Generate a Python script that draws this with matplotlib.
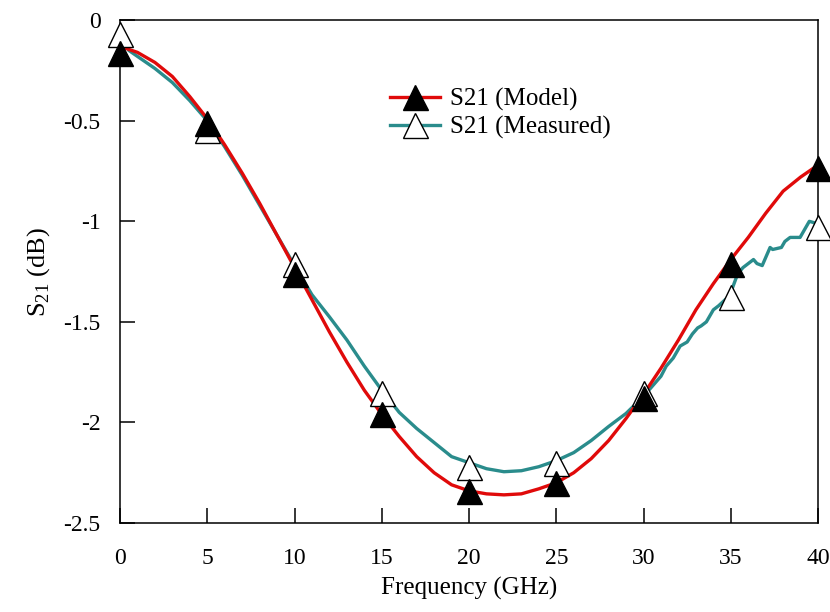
import matplotlib
matplotlib.use("Agg")
import matplotlib.pyplot as plt
from matplotlib.lines import Line2D

plt.rcParams['font.family'] = 'Liberation Serif'
plt.rcParams['mathtext.fontset'] = 'custom'
plt.rcParams['mathtext.rm'] = 'Liberation Serif'

# model curve (GHz, dB)
model_f = [0, 1, 2, 3, 4, 5, 6, 7, 8, 9, 10, 11, 12, 13, 14, 15, 16, 17, 18, 19, 20,
           21, 22, 23, 24, 25, 26, 27, 28, 29, 30, 31, 32, 33, 34, 35, 36, 37, 38, 39, 40]
model_db = [-0.13, -0.16, -0.21, -0.28, -0.38, -0.49, -0.62, -0.76, -0.91, -1.07, -1.23,
            -1.39, -1.55, -1.70, -1.84, -1.96, -2.07, -2.17, -2.25, -2.31, -2.34,
            -2.355, -2.36, -2.355, -2.33, -2.30, -2.25, -2.18, -2.09, -1.98, -1.86,
            -1.73, -1.59, -1.44, -1.31, -1.19, -1.08, -0.96, -0.85, -0.78, -0.72]

# measured curve (GHz, dB)
meas_f = [0, 0.5, 1, 2, 3, 4, 5, 6, 7, 8, 9, 10, 11, 12, 13, 14, 15, 16, 17, 18, 19, 20,
          21, 22, 23, 24, 25, 26, 27, 28, 29, 30, 30.5, 31.0, 31.3, 31.7, 32.1, 32.5, 32.8,
          33.1, 33.3, 33.6, 34.0, 34.3, 34.8, 35.1, 35.4, 35.7, 36.0, 36.3, 36.5, 36.8,
          37.05, 37.25, 37.4, 37.9, 38.1, 38.4, 38.97, 39.3, 39.5, 39.9]
meas_db = [-0.06, -0.15, -0.18, -0.24, -0.31, -0.40, -0.50, -0.63, -0.77, -0.92, -1.07,
           -1.22, -1.365, -1.475, -1.59, -1.72, -1.84, -1.95, -2.03, -2.10, -2.17, -2.20,
           -2.23, -2.245, -2.24, -2.22, -2.19, -2.15, -2.09, -2.02, -1.955, -1.87, -1.82,
           -1.77, -1.72, -1.68, -1.62, -1.60, -1.56, -1.53, -1.52, -1.50, -1.44, -1.42,
           -1.38, -1.33, -1.26, -1.23, -1.21, -1.19, -1.21, -1.22, -1.17, -1.13, -1.14,
           -1.13, -1.10, -1.08, -1.08, -1.03, -1.00, -1.01]

# marker points
mark_f = [0, 5, 10, 15, 20, 25, 30, 35, 40]
model_mark = [-0.165, -0.51, -1.26, -1.96, -2.34, -2.30, -1.88, -1.21, -0.735]
meas_mark = [-0.07, -0.545, -1.21, -1.855, -2.22, -2.20, -1.855, -1.375, -1.03]

yticks = [0, -0.5, -1, -1.5, -2, -2.5]
ytick_labels = ['0', '-0.5', '-1', '-1.5', '-2', '-2.5']

red = '#e00a0a'
teal = '#2a8c8c'

fig = plt.figure(figsize=(8.3, 6.12), dpi=100)
ax = fig.add_axes([0.1446, 0.1454, 0.841, 0.8216])

ax.plot(meas_f, meas_db, color=teal, lw=2.4, zorder=2)
ax.plot(model_f, model_db, color=red, lw=2.4, zorder=3)
ax.plot(mark_f, meas_mark, ls='none', marker='^', ms=18, mfc='white', mec='black',
        mew=1.0, zorder=4, clip_on=False)
ax.plot(mark_f, model_mark, ls='none', marker='^', ms=18, mfc='black', mec='black',
        mew=1.0, zorder=5, clip_on=False)

ax.set_xlim(0, 40)
ax.set_ylim(-2.5, 0)
ax.set_xticks(range(0, 41, 5))
ax.set_yticks(yticks)
ax.set_yticklabels(ytick_labels)
ax.tick_params(direction='in', length=11, width=1.1, labelsize=17)
ax.tick_params(axis='x', pad=18)
ax.tick_params(axis='y', pad=14)
for s in ax.spines.values():
    s.set_linewidth(1.1)

ax.set_xlabel('Frequency (GHz)', fontsize=18, labelpad=6)
ax.set_ylabel('S$_{21}$ (dB)', fontsize=19, labelpad=8)

handles = [
    Line2D([], [], color=red, lw=2.4, marker='^', ms=18, mfc='black', mec='black'),
    Line2D([], [], color=teal, lw=2.4, marker='^', ms=18, mfc='white', mec='black'),
]
ax.legend(handles, ['S21 (Model)', 'S21 (Measured)'], loc='upper left',
          bbox_to_anchor=(0.355, 0.91), frameon=False, fontsize=18,
          handlelength=2.0, labelspacing=0.2, handletextpad=0.4)

fig.savefig('out.png', dpi=100)
